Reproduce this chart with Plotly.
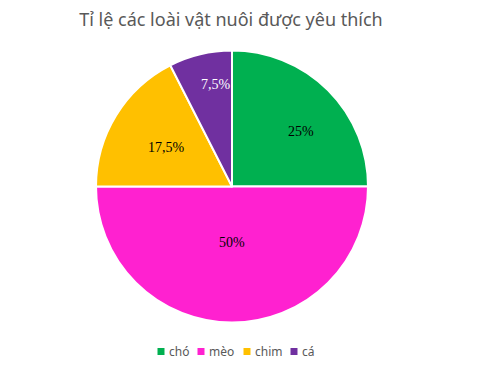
import math
import plotly.graph_objects as go

# Data
categories = ["chó", "mèo", "chim", "cá"]
values = [25, 50, 17.5, 7.5]
colors = ["#00B050", "#FF21D0", "#FFC000", "#7030A0"]
label_text = ["25%", "50%", "17,5%", "7,5%"]
label_colors = ["#000000", "#000000", "#000000", "#FFFFFF"]

# Label placement (fraction of radius, angular shift in degrees from slice bisector)
label_rfrac = [0.65, 0.41, 0.56, 0.76]
label_shift = [6.5, 0, -1, 4.5]

W, H = 478, 387
CX, CY, R = 232, 186.5, 136  # pie centre / radius in pixels

fig = go.Figure()
fig.add_trace(go.Pie(
    labels=categories,
    values=values,
    sort=False,
    direction="clockwise",
    rotation=0,
    marker=dict(colors=colors, line=dict(color="#FFFFFF", width=2)),
    textinfo="none",
    hoverinfo="label+percent",
    showlegend=False,
    domain=dict(x=[(CX - R) / W, (CX + R) / W],
                y=[(H - CY - R) / H, (H - CY + R) / H]),
))

# Percentage labels placed along each slice's bisector
total = sum(values)
cum = 0
annotations = []
for v, txt, col, rf, sh in zip(values, label_text, label_colors, label_rfrac, label_shift):
    mid = (cum + v / 2) / total * 360 + sh
    cum += v
    px = CX + rf * R * math.sin(math.radians(mid))
    py = CY - rf * R * math.cos(math.radians(mid))
    annotations.append(dict(
        x=px / W, y=1 - py / H, xref="paper", yref="paper",
        text=txt, showarrow=False,
        font=dict(family="Liberation Serif", size=14, color=col),
        xanchor="center", yanchor="middle",
    ))

# Legend row built from coloured squares and names
legend_x = [161, 201, 247, 294]
for name, col, lx in zip(categories, colors, legend_x):
    fig.add_shape(type="rect", xref="paper", yref="paper",
                  x0=(lx - 3.5) / W, x1=(lx + 3.5) / W,
                  y0=1 - (351.5 + 3.5) / H, y1=1 - (351.5 - 3.5) / H,
                  fillcolor=col, line=dict(width=0))
    annotations.append(dict(
        x=(lx + 6) / W, y=1 - 351 / H, xref="paper", yref="paper",
        text=name, showarrow=False, xanchor="left", yanchor="middle",
        font=dict(family="Noto Sans", size=12, color="#595959"),
    ))

fig.update_layout(
    width=W, height=H,
    margin=dict(l=0, r=0, t=0, b=0),
    paper_bgcolor="#FFFFFF",
    plot_bgcolor="#FFFFFF",
    title=dict(text="Tỉ lệ các loài vật nuôi được yêu thích",
               x=231 / W, xanchor="center", y=1 - 20 / H, yanchor="middle",
               font=dict(family="Noto Sans", size=18, color="#595959")),
    annotations=annotations,
)

fig.write_html("out.html")
